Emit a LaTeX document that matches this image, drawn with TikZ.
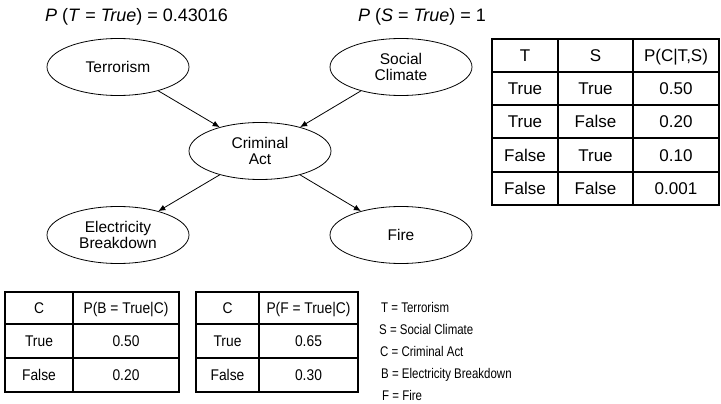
\documentclass[tikz,border=0pt]{standalone}
\usepackage{fontspec}
\setmainfont{Liberation Sans}
\newfontfamily\keyfont[FakeStretch=0.82]{Liberation Sans}
\newfontfamily\narrowfont[FakeStretch=0.89]{Liberation Sans}
\usepackage{tikz}
\usetikzlibrary{shapes,arrows,arrows.meta}
\tikzstyle{var} = [ellipse, draw, line width=0.8pt, inner sep=0pt, minimum width=142pt,
minimum height=57pt, align=center, font=\fontsize{15.5}{16.5}\selectfont]
\tikzstyle{line} = [draw, line width=0.8pt, -{Latex[length=7pt,width=6pt]}]
\tikzstyle{grid} = [draw, line width=1.1pt]
\tikzstyle{cell} = [inner sep=0pt, text height=12.2pt, text depth=0pt, font=\fontsize{17}{19}\selectfont]
\tikzstyle{bcell} = [inner sep=0pt, text height=11pt, text depth=0pt, font=\narrowfont\fontsize{15.5}{17}\selectfont]
\tikzstyle{prior} = [anchor=base west, inner sep=0pt, font=\fontsize{18}{20}\selectfont]
\tikzstyle{key} = [anchor=base west, inner sep=0pt, font=\keyfont\fontsize{14}{16}\selectfont]

\begin{document}
\begin{tikzpicture}[x=1pt, y=-1pt, node distance=168pt]
			\useasboundingbox (0,0) rectangle (721,404);
			% network
			\node [var] at (118,67) (terror) {Terrorism};
			\node [var, right of=terror, node distance=283pt] (social) {Social\\Climate};
			\node [var] at (260,151) (crime) {Criminal\\Act};
			\node [var, below of=terror] (power) {Electricity\\Breakdown};
			\node [var, below of=social] (fire) {Fire};
			\node [prior] at (45,21.5) (pt) {\textit{P} (\textit{T} = \textit{True}) = 0.43016};
			\node [prior] at (358,21.5) (ps) {\textit{P} (\textit{S} = \textit{True}) = 1};
			\path [line] (terror) -- (crime);
			\path [line] (social) -- (crime);
			\path [line] (crime) -- (power);
			\path [line] (crime) -- (fire);
			% table P(C|T,S)
			\draw [grid] (492,39) rectangle (719,205);
			\foreach \y in {72,105,138,172} \draw [grid] (492,\y) -- (719,\y);
			\foreach \x in {558,633} \draw [grid] (\x,39) -- (\x,205);
			\foreach \y/\t/\s/\p [count=\i] in {55.5/T/S/{P(C|T,S)}, 88.5/True/True/0.50,
				121.5/True/False/0.20, 155/False/True/0.10, 188.5/False/False/0.001} {
				\node [cell] at (525,\y) (ct-\i) {\t};
				\node [cell] at (595.5,\y) (cs-\i) {\s};
				\node [cell] at (676,\y) (cp-\i) {\p};
			}
			% table P(B|C)
			\draw [grid] (5,292) rectangle (179,392);
			\draw [grid] (73,292) -- (73,392);
			% table P(F|C)
			\draw [grid] (196,292) rectangle (358,392);
			\draw [grid] (259,292) -- (259,392);
			\foreach \y in {324,358} {
				\draw [grid] (5,\y) -- (179,\y);
				\draw [grid] (196,\y) -- (358,\y);
			}
			\foreach \y/\c/\b/\f [count=\i] in {308/C/{P(B = True|C)}/{P(F = True|C)},
				341/True/0.50/0.65, 375/False/0.20/0.30} {
				\node [bcell] at (39,\y) (bc-\i) {\c};
				\node [bcell] at (126,\y) (bp-\i) {\b};
				\node [bcell] at (227.5,\y) (fc-\i) {\c};
				\node [bcell] at (308.5,\y) (fp-\i) {\f};
			}
			% key
			\node [key] at (381,312) (kt) {T = Terrorism};
			\node [key] at (379,334) (ks) {S = Social Climate};
			\node [key] at (380,356) (kc) {C = Criminal Act};
			\node [key] at (381,378) (kb) {B = Electricity Breakdown};
			\node [key] at (382,400) (kf) {F = Fire};
		\end{tikzpicture}
\end{document}
